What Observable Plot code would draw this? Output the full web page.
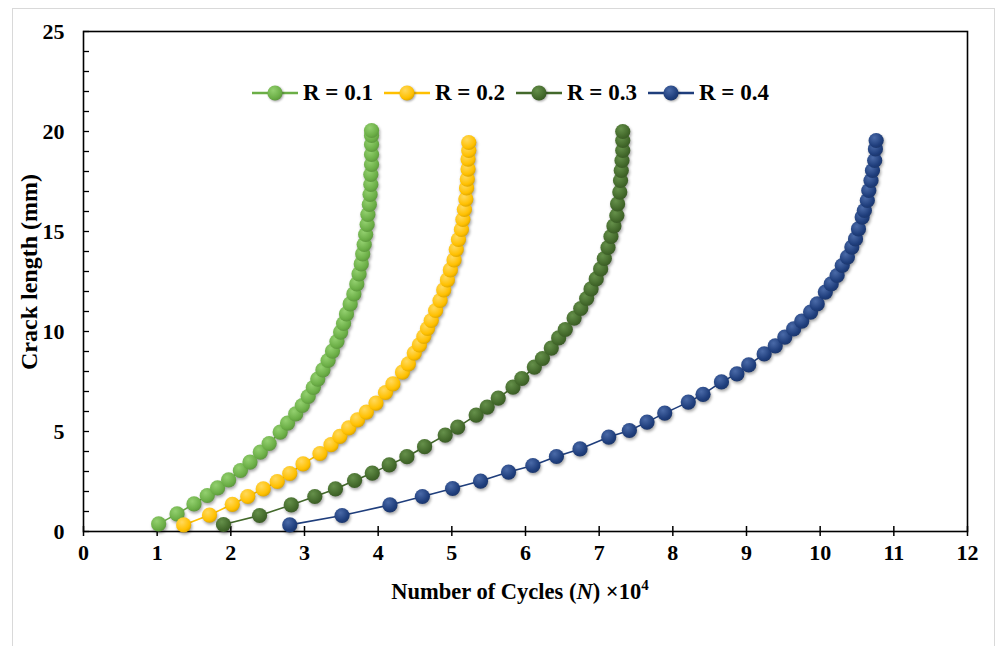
<!DOCTYPE html>
<html>
<head>
<meta charset="utf-8">
<script src="https://cdn.jsdelivr.net/npm/d3@7"></script>
<script src="https://cdn.jsdelivr.net/npm/@observablehq/plot@0.6"></script>
<style>
  body { margin: 0; background: #fff; font-family: "Liberation Serif", "Times New Roman", serif; }
  #wrap { position: relative; width: 997px; height: 646px; overflow: hidden; background: #fff; }
  #border { position: absolute; left: 12px; top: 8px; width: 983px; height: 700px; border: 1px solid #d9d9d9; box-sizing: border-box; }
  #chart { position: absolute; left: 0; top: 0; }
  #legend { position: absolute; top: 80px; left: 252px; display: flex; align-items: center; font-weight: bold; font-size: 23px; color: #000; }
  .item { display: flex; align-items: center; width: 132px; }
  .item svg { margin-right: 5px; overflow: visible; }
</style>
</head>
<body>
<svg width="0" height="0" style="position:absolute">
  <defs id="defs"></defs>
</svg>
<div id="wrap">
  <div id="border"></div>
  <div id="chart"></div>
  <div id="legend"></div>
</div>
<script>
// ---- data ----
const seriesNames = ["R = 0.1", "R = 0.2", "R = 0.3", "R = 0.4"];
const seriesColors = ["#6BAE46", "#FFC000", "#43692B", "#1F3E7C"];
const seriesLight = ["#93D06F", "#FFD95C", "#65904A", "#4A6AA8"];

// Number of cycles (×10^4) and crack length (mm)
const N_R01 = [1.02,1.27,1.50,1.68,1.82,1.97,2.13,2.26,2.40,2.52,2.67,2.77,2.88,2.97,3.05,3.12,3.18,3.25,3.32,3.38,3.44,3.49,3.53,3.57,3.62,3.67,3.71,3.74,3.77,3.79,3.81,3.83,3.85,3.86,3.88,3.89,3.90,3.90,3.91,3.91,3.91,3.91,3.91];
const a_R01 = [0.38,0.88,1.38,1.80,2.18,2.58,3.05,3.47,3.97,4.40,4.97,5.42,5.88,6.30,6.75,7.20,7.62,8.08,8.55,9.02,9.50,9.97,10.40,10.88,11.38,11.88,12.38,12.88,13.38,13.88,14.35,14.85,15.35,15.85,16.35,16.85,17.35,17.85,18.35,18.85,19.35,19.80,20.05];

const N_R02 = [1.36,1.71,2.02,2.23,2.44,2.63,2.80,2.98,3.21,3.36,3.48,3.60,3.72,3.84,3.97,4.10,4.20,4.33,4.41,4.49,4.56,4.62,4.67,4.72,4.78,4.84,4.89,4.94,4.98,5.03,5.06,5.09,5.13,5.15,5.17,5.19,5.20,5.21,5.22,5.22,5.23,5.23];
const a_R02 = [0.33,0.82,1.36,1.75,2.13,2.50,2.90,3.38,3.90,4.34,4.76,5.18,5.58,5.97,6.42,6.95,7.38,7.97,8.38,8.92,9.33,9.75,10.15,10.55,11.05,11.55,12.08,12.58,13.08,13.58,14.10,14.60,15.10,15.60,16.10,16.62,17.18,17.62,18.12,18.62,19.05,19.45];

const N_R03 = [1.90,2.39,2.82,3.14,3.42,3.68,3.92,4.15,4.39,4.63,4.91,5.08,5.33,5.48,5.63,5.83,5.95,6.12,6.23,6.35,6.45,6.54,6.66,6.75,6.83,6.89,6.96,7.02,7.07,7.12,7.16,7.20,7.24,7.25,7.28,7.29,7.30,7.31,7.32,7.32,7.32];
const a_R03 = [0.35,0.80,1.33,1.75,2.13,2.55,2.92,3.33,3.74,4.24,4.82,5.22,5.82,6.22,6.67,7.22,7.65,8.22,8.65,9.17,9.68,10.10,10.67,11.15,11.65,12.13,12.63,13.13,13.65,14.20,14.75,15.28,15.80,16.38,16.97,17.55,18.05,18.55,19.05,19.55,20.00];

const N_R04 = [2.80,3.51,4.16,4.60,5.01,5.39,5.77,6.10,6.42,6.74,7.13,7.41,7.65,7.89,8.21,8.41,8.66,8.87,9.03,9.24,9.39,9.52,9.64,9.75,9.87,9.96,10.07,10.15,10.23,10.30,10.37,10.43,10.48,10.52,10.57,10.60,10.64,10.66,10.69,10.71,10.74,10.75,10.76];
const a_R04 = [0.33,0.80,1.33,1.75,2.15,2.52,2.97,3.30,3.75,4.13,4.72,5.05,5.47,5.92,6.47,6.86,7.48,7.88,8.33,8.88,9.28,9.72,10.13,10.52,10.97,11.38,11.97,12.38,12.80,13.30,13.72,14.22,14.63,15.13,15.72,16.05,16.55,17.05,17.55,18.05,18.55,19.13,19.55];

const xTicks = [0,1,2,3,4,5,6,7,8,9,10,11,12];
const yTicks = [0,5,10,15,20,25];
const yMinorTicks = d3.range(0, 26);

// ---- build tables ----
const Ns = [N_R01, N_R02, N_R03, N_R04];
const As = [a_R01, a_R02, a_R03, a_R04];
const tables = seriesNames.map((s, i) => Ns[i].map((n, j) => ({series: s, N: n, a: As[i][j]})));

// gradients for the marker look
const defs = d3.select("#defs");
seriesNames.forEach((s, i) => {
  const g = defs.append("radialGradient").attr("id", "grad" + i)
    .attr("cx", "38%").attr("cy", "32%").attr("r", "70%");
  g.append("stop").attr("offset", "0%").attr("stop-color", seriesLight[i]);
  g.append("stop").attr("offset", "75%").attr("stop-color", seriesColors[i]);
  g.append("stop").attr("offset", "100%").attr("stop-color", d3.color(seriesColors[i]).darker(0.4).formatHex());
});

const font = {fontFamily: "Liberation Serif, Times New Roman, serif", fontSize: 22, fontWeight: "bold", fill: "#000"};

const marks = [
  Plot.frame({stroke: "#000", strokeWidth: 1.6}),
  Plot.axisX({ticks: xTicks, tickSize: 10, dy: -5, tickFormat: () => "", label: null, strokeWidth: 1.5}),
  Plot.axisX({ticks: xTicks, tickSize: 0, tickPadding: 13, label: null, ...font}),
  Plot.axisY({ticks: yMinorTicks, tickSize: 6, dx: 6, tickFormat: () => "", label: null, strokeWidth: 1.3}),
  Plot.axisY({ticks: yTicks, tickSize: 0, tickPadding: 19, label: null, ...font})
];
tables.forEach((t, i) => {
  marks.push(Plot.line(t, {x: "N", y: "a", stroke: seriesColors[i], strokeWidth: 1.6}));
  marks.push(Plot.dot(t, {x: "N", y: "a", r: 7.6, fill: `url(#grad${i})`, stroke: "none", className: "dots"}));
});

const chart = Plot.plot({
  width: 997,
  height: 646,
  marginLeft: 83,
  marginRight: 30,
  marginTop: 31,
  marginBottom: 115,
  style: {background: "transparent", color: "#000", fontFamily: "Liberation Serif, Times New Roman, serif"},
  x: {domain: [0, 12], label: null},
  y: {domain: [0, 25], label: null},
  marks
});
document.getElementById("chart").appendChild(chart);

const svg = d3.select(chart);
svg.selectAll(".dots").style("filter", "drop-shadow(1.5px 2px 1.5px rgba(0,0,0,0.35))");

// axis titles
svg.append("text")
  .attr("transform", "translate(37,272) rotate(-90)")
  .attr("text-anchor", "middle")
  .style("font-family", "Liberation Serif, Times New Roman, serif")
  .style("font-size", "24px").style("font-weight", "bold").attr("fill", "#000")
  .text("Crack length (mm)");

const xt = svg.append("text")
  .attr("x", 520).attr("y", 599)
  .attr("text-anchor", "middle")
  .style("font-family", "Liberation Serif, Times New Roman, serif")
  .style("font-size", "22.5px").style("font-weight", "bold").attr("fill", "#000");
xt.append("tspan").text("Number of Cycles (");
xt.append("tspan").style("font-style", "italic").text("N");
xt.append("tspan").text(") \u00d710");
xt.append("tspan").attr("dy", -9).style("font-size", "15px").text("4");

// legend
const legend = d3.select("#legend");
seriesNames.forEach((s, i) => {
  const it = legend.append("div").attr("class", "item");
  const sv = it.append("svg").attr("width", 46).attr("height", 20);
  sv.append("line").attr("x1", 0).attr("x2", 46).attr("y1", 10).attr("y2", 10)
    .attr("stroke", seriesColors[i]).attr("stroke-width", 2.5);
  sv.append("circle").attr("cx", 23).attr("cy", 10).attr("r", 7.6)
    .attr("fill", `url(#grad${i})`).style("filter", "drop-shadow(1px 1.5px 1px rgba(0,0,0,0.35))");
  it.append("span").text(s);
});
</script>
</body>
</html>
